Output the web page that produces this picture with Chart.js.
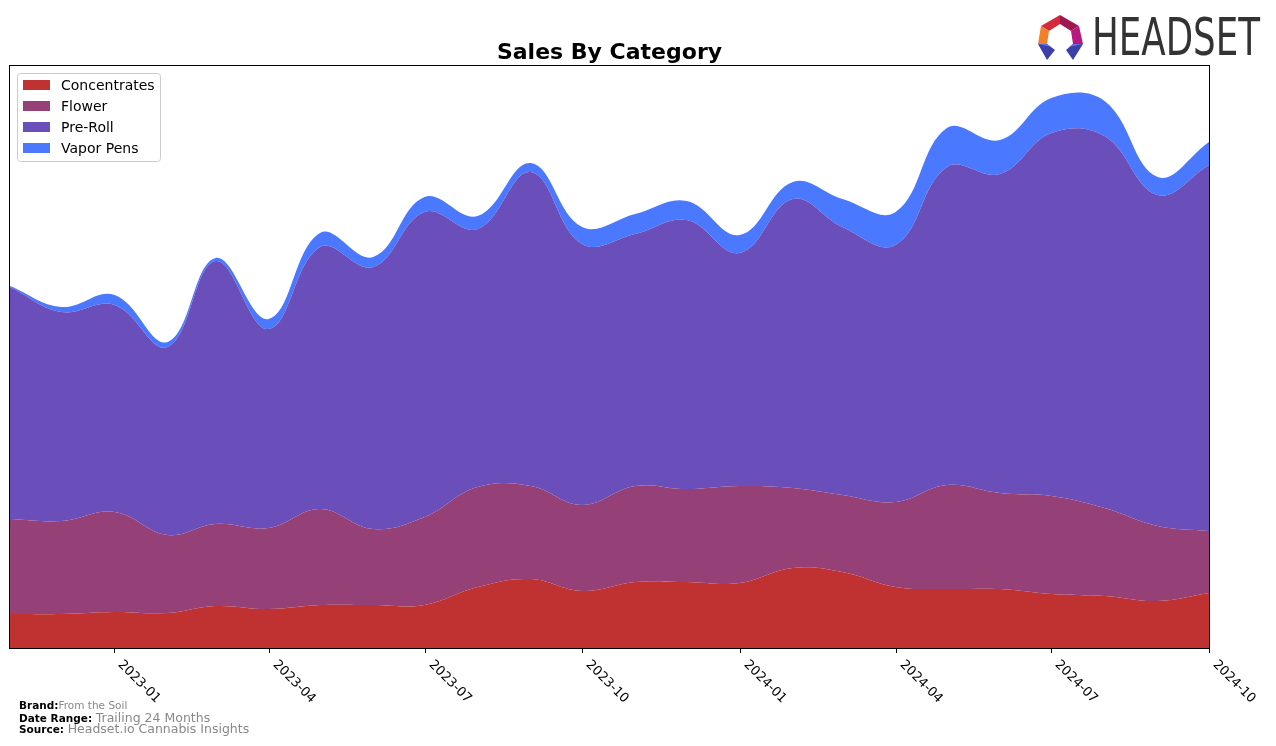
<!DOCTYPE html>
<html>
<head>
<meta charset="utf-8">
<script src="https://cdn.jsdelivr.net/npm/chart.js@4/dist/chart.umd.min.js"></script>
<style>
html,body{margin:0;padding:0;background:#fff;}
#wrap{position:relative;width:1276px;height:746px;overflow:hidden;background:#fff;}
#c{position:absolute;left:0;top:0;}
#ov{position:absolute;left:0;top:0;}
</style>
</head>
<body>
<div id="wrap">
<canvas id="c" width="1276" height="746"></canvas>
<svg id="ov" width="1276" height="746" xmlns="http://www.w3.org/2000/svg">
  <polygon points="1060,15 1041,26 1049,31 1060,24" fill="#D42A3C"/>
  <polygon points="1060,15 1079,26 1071,31 1060,24" fill="#A01850"/>
  <polygon points="1041,26 1038,44 1047,44 1049,31" fill="#F3802A"/>
  <polygon points="1079,26 1083,44 1073,44 1071,31" fill="#B8197E"/>
  <polygon points="1038,44 1047,44 1055,50 1047,60" fill="#3B3FA8"/>
  <polygon points="1038,44 1047,44 1051,47" fill="#6A6BE0"/>
  <polygon points="1083,44 1073,44 1066,50 1073,60" fill="#3B3FA8"/>
  <polygon points="1083,44 1073,44 1069,47" fill="#6A6BE0"/>
  <text x="1092" y="55" font-family="Liberation Sans Narrow, DejaVu Sans Condensed, sans-serif" font-size="51" fill="#333333" textLength="168" lengthAdjust="spacingAndGlyphs">HEADSET</text>
  <text x="19" y="709.3" font-family="DejaVu Sans" font-size="10.5" font-weight="bold" fill="#000">Brand:<tspan font-weight="normal" fill="#888888">From the Soil</tspan></text>
  <text x="19" y="721.7" font-family="DejaVu Sans" font-size="10.5" font-weight="bold" fill="#000">Date Range: <tspan font-weight="normal" font-size="12.5" fill="#888888">Trailing 24 Months</tspan></text>
  <text x="19" y="733" font-family="DejaVu Sans" font-size="10.5" font-weight="bold" fill="#000">Source: <tspan font-weight="normal" font-size="12.5" fill="#888888">Headset.io Cannabis Insights</tspan></text>
</svg>
</div>
<script>
const months = ['2022-11','2022-12','2023-01','2023-02','2023-03','2023-04','2023-05','2023-06','2023-07','2023-08','2023-09','2023-10','2023-11','2023-12','2024-01','2024-02','2024-03','2024-04','2024-05','2024-06','2024-07','2024-08','2024-09','2024-10'];
const tickLabels = ['2023-01','2023-04','2023-07','2023-10','2024-01','2024-04','2024-07','2024-10'];
const seriesNames = ['Concentrates','Flower','Pre-Roll','Vapor Pens'];
const concentrates = [34, 34, 36, 35, 42, 39, 43, 43, 43, 61, 69, 57, 66, 66, 65, 80, 76, 61, 59, 59, 54, 52, 47, 55];
const flower = [95, 93, 100, 78, 82, 81, 96, 76, 88, 100, 93, 86, 96, 93, 97, 80, 77, 85, 104, 96, 98, 88, 75, 62];
const preRoll = [232, 209, 207, 188, 263, 199, 262, 262, 305, 258, 314, 261, 252, 269, 233, 289, 268, 257, 318, 319, 363, 372, 331, 366];
const vaporPens = [1, 5, 10, 5, 3, 10, 14, 10, 15, 13, 9, 17, 20, 19, 18, 17, 28, 33, 39, 34, 35, 35, 18, 23];
const colors = ['#C03232', '#964078', '#6A4FBB', '#4A78FF'];

const DAY = 86400000;
const t0 = Date.UTC(2022, 10, 1);
function dayOf(m) {
  const [y, mo] = m.split('-').map(Number);
  return (Date.UTC(y, mo - 1, 1) - t0) / DAY;
}
const xDays = months.map(dayOf);

const allSeries = [concentrates, flower, preRoll, vaporPens];
const datasets = allSeries.map((d, i) => ({
  label: seriesNames[i],
  data: d.map((v, k) => ({ x: xDays[k], y: v })),
  backgroundColor: colors[i],
  borderColor: colors[i],
  borderWidth: 0,
  fill: i === 0 ? 'origin' : '-1',
  pointRadius: 0,
  tension: 0.4
}));

const decor = {
  id: 'decor',
  afterDraw(chart) {
    const ctx = chart.ctx;
    const a = chart.chartArea;
    const xs = chart.scales.x;
    ctx.save();
    ctx.strokeStyle = '#000';
    ctx.lineWidth = 1;
    ctx.strokeRect(Math.round(a.left) - 0.5, Math.round(a.top) - 0.5, Math.round(a.right - a.left) + 1, Math.round(a.bottom - a.top) + 1);
    ctx.fillStyle = '#000';
    ctx.font = '13px "DejaVu Sans"';
    tickLabels.forEach(t => {
      const x = Math.round(xs.getPixelForValue(dayOf(t))) + 0.5;
      ctx.beginPath();
      ctx.moveTo(x, a.bottom);
      ctx.lineTo(x, a.bottom + 5);
      ctx.stroke();
      ctx.save();
      ctx.translate(x + 10, a.bottom + 10);
      ctx.rotate(Math.PI / 4);
      ctx.textAlign = 'left';
      ctx.textBaseline = 'top';
      ctx.fillText(t, 0, 0);
      ctx.restore();
    });
    ctx.font = 'bold 22px "DejaVu Sans"';
    ctx.textAlign = 'center';
    ctx.textBaseline = 'alphabetic';
    ctx.fillText('Sales By Category', (a.left + a.right) / 2, 58.5);
    const lx = 17.5, ly = 73.5, lw = 143, lh = 88, r = 3;
    ctx.beginPath();
    ctx.moveTo(lx + r, ly);
    ctx.lineTo(lx + lw - r, ly);
    ctx.quadraticCurveTo(lx + lw, ly, lx + lw, ly + r);
    ctx.lineTo(lx + lw, ly + lh - r);
    ctx.quadraticCurveTo(lx + lw, ly + lh, lx + lw - r, ly + lh);
    ctx.lineTo(lx + r, ly + lh);
    ctx.quadraticCurveTo(lx, ly + lh, lx, ly + lh - r);
    ctx.lineTo(lx, ly + r);
    ctx.quadraticCurveTo(lx, ly, lx + r, ly);
    ctx.closePath();
    ctx.fillStyle = 'rgba(255,255,255,0.8)';
    ctx.fill();
    ctx.strokeStyle = '#cccccc';
    ctx.stroke();
    ctx.font = '14px "DejaVu Sans"';
    ctx.textAlign = 'left';
    ctx.textBaseline = 'middle';
    seriesNames.forEach((n, i) => {
      const cy = 85 + i * 21;
      ctx.fillStyle = colors[i];
      ctx.fillRect(23, cy - 5, 27, 10);
      ctx.fillStyle = '#000';
      ctx.fillText(n, 61, cy + 1);
    });
    ctx.restore();
  }
};

new Chart(document.getElementById('c'), {
  type: 'line',
  data: { datasets: datasets },
  options: {
    responsive: false,
    animation: false,
    devicePixelRatio: 1,
    layout: { padding: { left: 10, right: 67, top: 66, bottom: 98 } },
    plugins: { legend: { display: false }, title: { display: false }, tooltip: { enabled: false } },
    scales: {
      x: { type: 'linear', display: false, min: xDays[0], max: xDays[xDays.length - 1] },
      y: { display: false, stacked: true, min: 0, max: 582 }
    }
  },
  plugins: [decor]
});
</script>
</body>
</html>
